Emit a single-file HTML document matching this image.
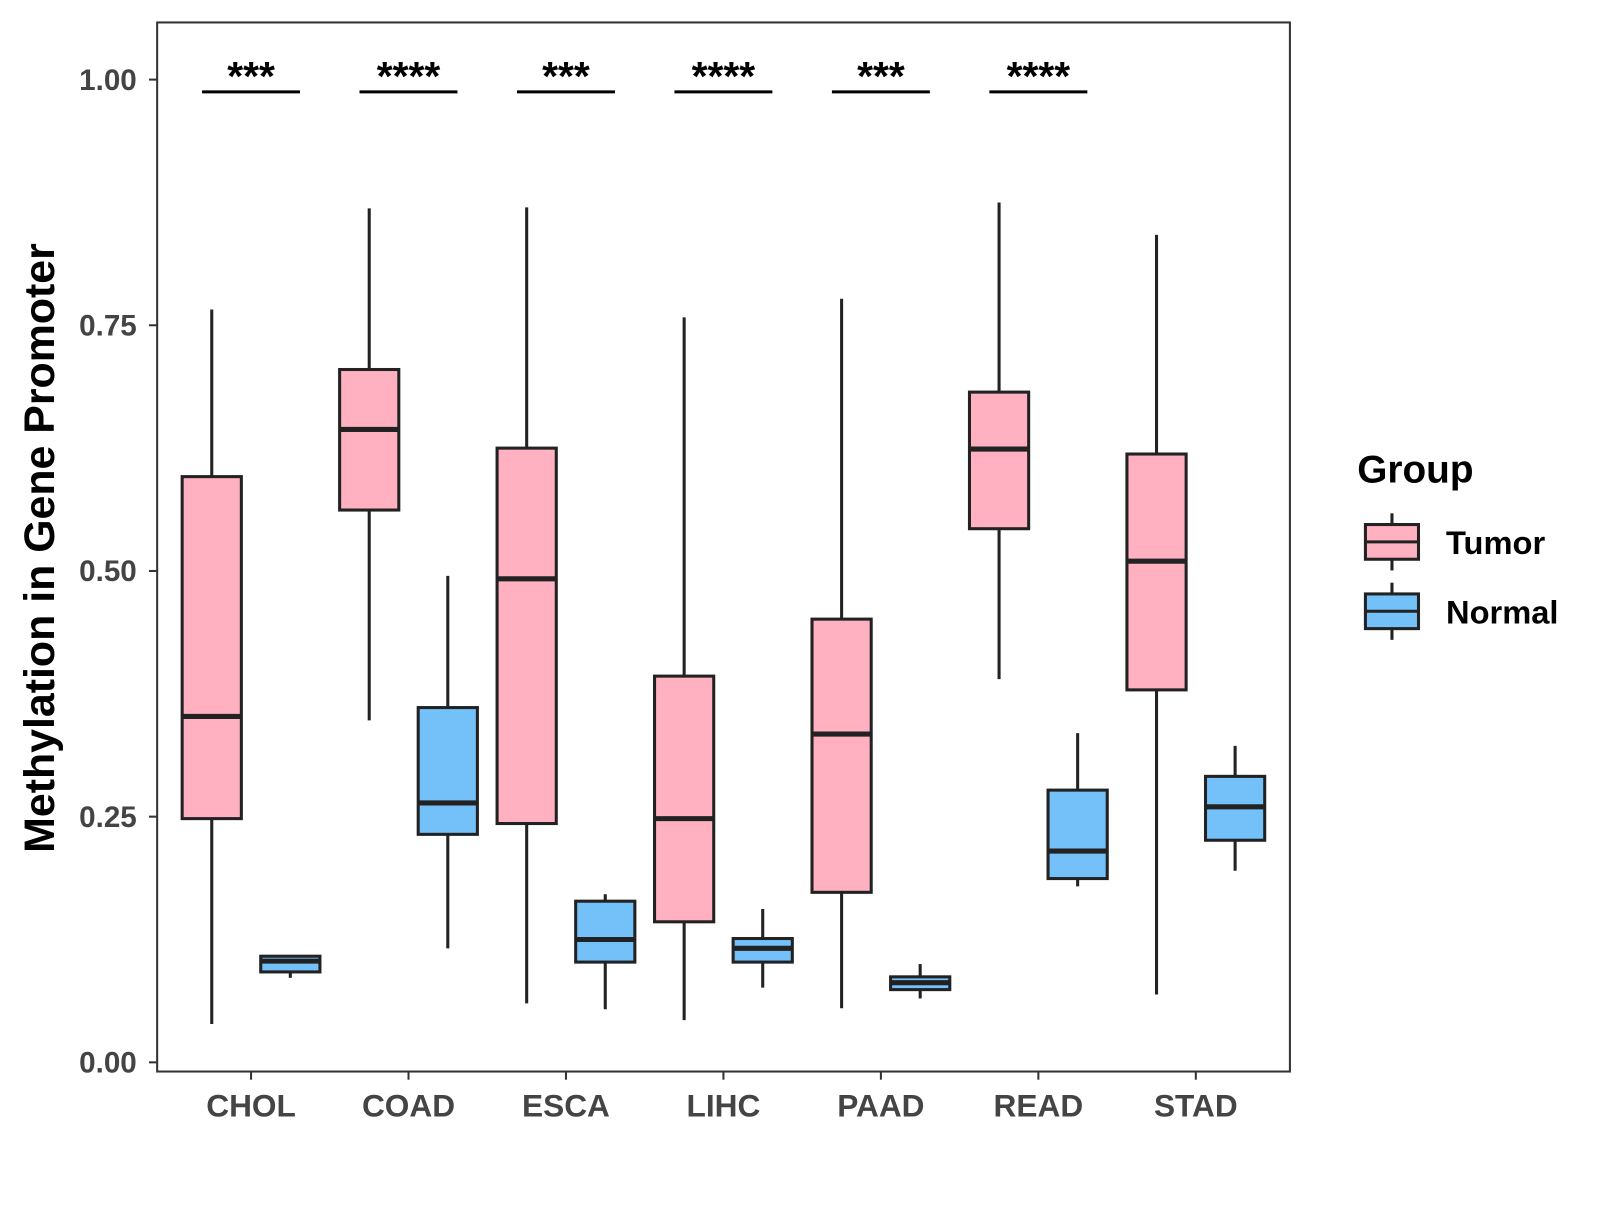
<!DOCTYPE html>
<html><head><meta charset="utf-8"><style>
body{margin:0;background:#fff;}
svg text{font-family:"Liberation Sans",Arial,sans-serif;font-weight:bold;}
</style></head><body>
<svg id="chart" width="1600" height="1200" viewBox="0 0 1600 1200" xmlns="http://www.w3.org/2000/svg">
<g transform="scale(1.0205)">
<rect x="154" y="22" width="1110" height="1028" fill="#fff" stroke="#333" stroke-width="2"/>
<g id="axes"></g>
<g id="marks"></g>
<text transform="translate(53,537) rotate(-90)" text-anchor="middle" font-size="42" fill="#000">Methylation in Gene Promoter</text>
<g>
<text x="1330" y="473" font-size="38" fill="#000">Group</text>
<g>
<line x1="1364" y1="503" x2="1364" y2="559" stroke="#222" stroke-width="3"/>
<rect x="1338" y="514" width="52" height="34" fill="#FFB0C1" stroke="#222" stroke-width="3"/>
<line x1="1338" y1="531" x2="1390" y2="531" stroke="#222" stroke-width="3"/>
<text x="1417" y="543" font-size="32" fill="#000">Tumor</text></g>
<g>
<line x1="1364" y1="571" x2="1364" y2="627" stroke="#222" stroke-width="3"/>
<rect x="1338" y="582" width="52" height="34" fill="#74C0F8" stroke="#222" stroke-width="3"/>
<line x1="1338" y1="599" x2="1390" y2="599" stroke="#222" stroke-width="3"/>
<text x="1417" y="611" font-size="32" fill="#000">Normal</text></g>
</g>
</g>
</svg>
<script>
const categories=["CHOL","COAD","ESCA","LIHC","PAAD","READ","STAD"];
// [low, q1, median, q3, high]
const tumor=[[0.039,0.248,0.352,0.596,0.766],[0.348,0.562,0.644,0.705,0.869],[0.060,0.243,0.492,0.625,0.870],[0.043,0.143,0.248,0.393,0.758],[0.055,0.173,0.334,0.451,0.777],[0.390,0.543,0.624,0.682,0.875],[0.069,0.379,0.510,0.619,0.842]];
const normal=[[0.086,0.092,0.103,0.108,0.108],[0.116,0.232,0.264,0.361,0.495],[0.054,0.102,0.125,0.164,0.171],[0.076,0.102,0.116,0.126,0.156],[0.065,0.074,0.081,0.087,0.100],[0.179,0.187,0.215,0.277,0.335],[0.195,0.226,0.260,0.291,0.322]];
const signif=["***","****","***","****","***","****"];
const yTicks=[0,0.25,0.5,0.75,1.0];
const yTickLabels=["0.00","0.25","0.50","0.75","1.00"];
const NS="http://www.w3.org/2000/svg";
function y(v){return 1041-v*963;}
function x(i){return 246+i*154.3;}
function mk(tag,attrs,parent,text){const e=document.createElementNS(NS,tag);for(const k in attrs)e.setAttribute(k,attrs[k]);if(text!==undefined)e.textContent=text;parent.appendChild(e);return e;}
const axes=document.getElementById('axes'),marks=document.getElementById('marks');
yTicks.forEach((t,i)=>{
 const l=mk('line',{x1:146,x2:154,y1:y(t),y2:y(t),stroke:'#333','stroke-width':2},axes);
 
 
 const tx=mk('text',{x:134,y:y(t)+10,'text-anchor':'end','font-size':29,fill:'#444'},axes,yTickLabels[i]);
 
 
});
categories.forEach((c,i)=>{
 const l=mk('line',{x1:x(i),x2:x(i),y1:1050,y2:1058,stroke:'#333','stroke-width':2},axes);
 
 
 const tx=mk('text',{x:x(i),y:1094,'text-anchor':'middle','font-size':31,fill:'#444'},axes,c);
 
 
});
function box(cx,d,fill,name){
 const g=mk('g',{},marks);
 
 
 mk('line',{x1:cx,x2:cx,y1:y(d[0]),y2:y(d[4]),stroke:'#222','stroke-width':3},g);
 mk('rect',{x:cx-29,y:y(d[3]),width:58,height:Math.max(y(d[1])-y(d[3]),1),fill:fill,stroke:'#222','stroke-width':3},g);
 mk('line',{x1:cx-29,x2:cx+29,y1:y(d[2]),y2:y(d[2]),stroke:'#222','stroke-width':5},g);
}
categories.forEach((c,i)=>{
 box(x(i)-38.5,tumor[i],'#FFB0C1','box-tumor-'+c.toLowerCase());
 box(x(i)+38.5,normal[i],'#74C0F8','box-normal-'+c.toLowerCase());
});
signif.forEach((s,i)=>{
 const l=mk('line',{x1:x(i)-48,x2:x(i)+48,y1:90,y2:90,stroke:'#000','stroke-width':3},marks);
 
 
 const t=mk('text',{x:x(i),y:88,'text-anchor':'middle','font-size':40,fill:'#000'},marks,s);
 
 
});
</script>
</body></html>
